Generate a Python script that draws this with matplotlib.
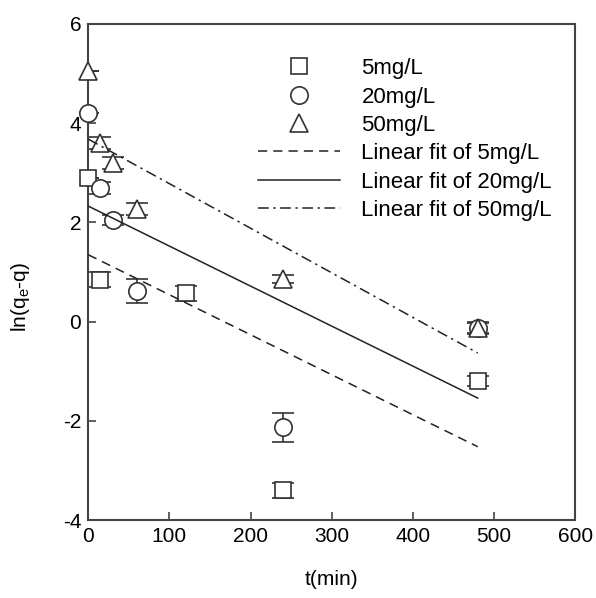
import matplotlib.pyplot as plt
import numpy as np

plt.rcParams['font.family'] = ['Liberation Sans', 'DejaVu Sans']
plt.rcParams['axes.unicode_minus'] = False

# Sampling times (min) and ln(qe - q) for each initial concentration
t_5 = [0, 15, 120, 240, 480]
y_5 = [2.9, 0.85, 0.57, -3.4, -1.2]
e_5 = [0, 0.16, 0.15, 0.15, 0.1]

t_20 = [0, 15, 30, 60, 240, 480]
y_20 = [4.2, 2.7, 2.05, 0.62, -2.13, -0.13]
e_20 = [0, 0.12, 0.1, 0.25, 0.3, 0.1]

t_50 = [0, 15, 30, 60, 240, 480]
y_50 = [5.05, 3.6, 3.2, 2.28, 0.87, -0.13]
e_50 = [0, 0.12, 0.12, 0.12, 0.08, 0.12]

# Linear fit parameters (intercept, slope)
fit_5 = (1.35, -0.00806)
fit_20 = (2.33, -0.00806)
fit_50 = (3.68, -0.00898)
fit_range = (0, 480)

fig = plt.figure(figsize=(5.96, 5.98), dpi=100)
ax = fig.add_axes([0.148, 0.130, 0.817, 0.830])

ec = '#333333'
ebar = dict(fmt='none', ecolor=ec, elinewidth=1.2, capsize=8, capthick=1.2, zorder=2)
ax.errorbar(t_5, y_5, yerr=e_5, **ebar)
ax.errorbar(t_20, y_20, yerr=e_20, **ebar)
ax.errorbar(t_50, y_50, yerr=e_50, **ebar)

mk = dict(linestyle='none', markerfacecolor='white', markeredgecolor=ec,
          markeredgewidth=1.2, zorder=3, clip_on=False)
h5, = ax.plot(t_5, y_5, marker='s', markersize=11.5, label='5mg/L', **mk)
h20, = ax.plot(t_20, y_20, marker='o', markersize=12.5, label='20mg/L', **mk)
h50, = ax.plot(t_50, y_50, marker='^', markersize=13, label='50mg/L', **mk)

xf = np.linspace(*fit_range, 50)
f5, = ax.plot(xf, fit_5[0] + fit_5[1] * xf, color='#222222', lw=1.1,
              dashes=(6, 4), label='Linear fit of 5mg/L', zorder=4)
f20, = ax.plot(xf, fit_20[0] + fit_20[1] * xf, color='#222222', lw=1.1,
               ls='-', label='Linear fit of 20mg/L', zorder=4)
f50, = ax.plot(xf, fit_50[0] + fit_50[1] * xf, color='#222222', lw=1.1,
               dashes=(7, 3, 1.5, 3), label='Linear fit of 50mg/L', zorder=4)

ax.set_xlim(0, 600)
ax.set_ylim(-4, 6)
ax.set_xticks(range(0, 601, 100))
ax.set_yticks(range(-4, 7, 2))
ax.tick_params(direction='in', length=6, width=1.2, color='#444444',
               labelsize=15, pad=5)
for s in ax.spines.values():
    s.set_linewidth(1.5)
    s.set_color('#444444')

ax.set_xlabel('t(min)', fontsize=15, labelpad=17)
ax.set_ylabel(r'ln(q$_\mathregular{e}$-q)', fontsize=15)
ax.yaxis.set_label_coords(-0.115, 0.45)

ax.legend(handles=[h5, h20, h50, f5, f20, f50], loc='upper left',
          bbox_to_anchor=(0.349, 0.931), frameon=False, fontsize=16,
          handlelength=3.7, handletextpad=0.95, labelspacing=0.33,
          borderpad=0, borderaxespad=0, numpoints=1)

fig.savefig('out.png', dpi=100)
